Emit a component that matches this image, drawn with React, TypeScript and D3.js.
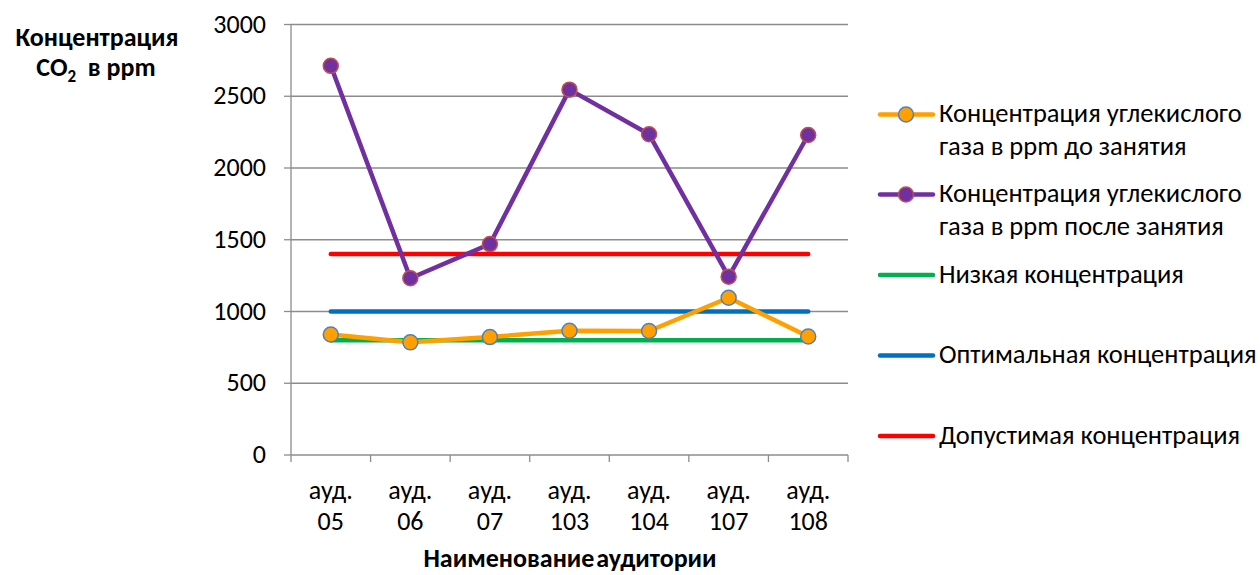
import React from "react";
import * as d3 from "d3";

const categories = ["ауд. 05", "ауд. 06", "ауд. 07", "ауд. 103", "ауд. 104", "ауд. 107", "ауд. 108"];
const before = [840, 785, 822, 866, 864, 1096, 826];
const after = [2712, 1232, 1470, 2546, 2235, 1243, 2230];
const low = [800, 800, 800, 800, 800, 800, 800];
const optimal = [1000, 1000, 1000, 1000, 1000, 1000, 1000];
const allowed = [1400, 1400, 1400, 1400, 1400, 1400, 1400];
const yTicks = [0, 500, 1000, 1500, 2000, 2500, 3000];

const FONT = "Calibri, Carlito, 'Noto Sans', sans-serif";

export default function App() {
  const W = 1260, H = 575;
  const x0 = 291, x1 = 848, yTop = 24.5, yBot = 455;
  const x = d3.scaleBand<string>().domain(categories).range([x0, x1]);
  const y = d3.scaleLinear().domain([0, 3000]).range([yBot, yTop]);
  const cx = (c: string) => (x(c) as number) + x.bandwidth() / 2;
  const line = d3.line<number>().x((_, i) => cx(categories[i])).y((d) => y(d));
  const grid = "#8c8c8c";
  const FS = 26;

  const series = [
    { data: allowed, color: "#FF0000" },
    { data: optimal, color: "#0070C0" },
    { data: low, color: "#00B050" },
  ];

  const legend = [
    { lines: ["Концентрация углекислого", "газа в ppm до занятия"], color: "#FFA000", marker: "#4F81BD", y: 114.5 },
    { lines: ["Концентрация углекислого", "газа в ppm после занятия"], color: "#7030A0", marker: "#C0504D", y: 194.5 },
    { lines: ["Низкая концентрация"], color: "#00B050", y: 275 },
    { lines: ["Оптимальная концентрация"], color: "#0070C0", y: 355.5 },
    { lines: ["Допустимая концентрация"], color: "#FF0000", y: 436 },
  ];

  return (
    <svg width={W} height={H} style={{ position: "absolute", left: 0, top: 0, background: "#fff" }} fontFamily={FONT}>
      {yTicks.map((t) => (
        <g key={t}>
          {t > 0 && <line x1={x0} x2={x1} y1={y(t)} y2={y(t)} stroke={grid} strokeWidth={1.3} />}
          <line x1={x0 - 7} x2={x0} y1={y(t)} y2={y(t)} stroke={grid} strokeWidth={1.3} />
          <text x={266} y={y(t) + 8} textAnchor="end" fontSize={FS} fill="#000">{t}</text>
        </g>
      ))}
      <line x1={x0} x2={x0} y1={yTop} y2={yBot} stroke={grid} strokeWidth={1.3} />
      <line x1={x0} x2={x1} y1={yBot} y2={yBot} stroke={grid} strokeWidth={1.3} />
      {categories.map((c, i) => (
        <line key={"t" + i} x1={x(c)} x2={x(c)} y1={yBot} y2={yBot + 7} stroke={grid} strokeWidth={1.3} />
      ))}
      <line x1={x1} x2={x1} y1={yBot} y2={yBot + 7} stroke={grid} strokeWidth={1.3} />
      {categories.map((c, i) => {
        const parts = c.split(" ");
        return (
          <text key={"c" + i} x={cx(c)} textAnchor="middle" fontSize={FS} fill="#000">
            <tspan x={cx(c)} y={499}>{parts[0]}</tspan>
            <tspan x={cx(c)} y={530}>{parts[1]}</tspan>
          </text>
        );
      })}
      {series.map((s, i) => (
        <path key={"s" + i} d={line(s.data) as string} fill="none" stroke={s.color} strokeWidth={4.5} strokeLinecap="round" />
      ))}
      <path d={line(before) as string} fill="none" stroke="#FFA000" strokeWidth={4.5} strokeLinejoin="round" />
      {before.map((v, i) => (
        <circle key={"b" + i} cx={cx(categories[i])} cy={y(v)} r={7.5} fill="#FFA000" stroke="#4F81BD" strokeWidth={1.5} />
      ))}
      <path d={line(after) as string} fill="none" stroke="#7030A0" strokeWidth={4.5} strokeLinejoin="round" />
      {after.map((v, i) => (
        <circle key={"a" + i} cx={cx(categories[i])} cy={y(v)} r={7.5} fill="#7030A0" stroke="#C0504D" strokeWidth={1.5} />
      ))}
      <text x={97} y={45.5} textAnchor="middle" fontSize={FS} fontWeight="bold" fill="#000">Концентрация</text>
      <text x={96} y={76} textAnchor="middle" fontSize={FS} fontWeight="bold" fill="#000" style={{ whiteSpace: "pre" }}>
        CO<tspan fontSize={17} dy={6}>2</tspan><tspan dy={-6}>{"  в ppm"}</tspan>
      </text>
      <text x={570} y={567} textAnchor="middle" fontSize={FS} fontWeight="bold" fill="#000" wordSpacing={-4}>Наименование аудитории</text>
      {legend.map((l, i) => (
        <g key={"l" + i}>
          <line x1={880} x2={933} y1={l.y} y2={l.y} stroke={l.color} strokeWidth={4.5} strokeLinecap="round" />
          {l.marker && <circle cx={906} cy={l.y} r={7.5} fill={l.color} stroke={l.marker} strokeWidth={1.5} />}
          {l.lines.map((t, j) => (
            <text key={j} x={939} y={l.y + 7.5 + j * 32.5} fontSize={26.5} fill="#000">{t}</text>
          ))}
        </g>
      ))}
    </svg>
  );
}
